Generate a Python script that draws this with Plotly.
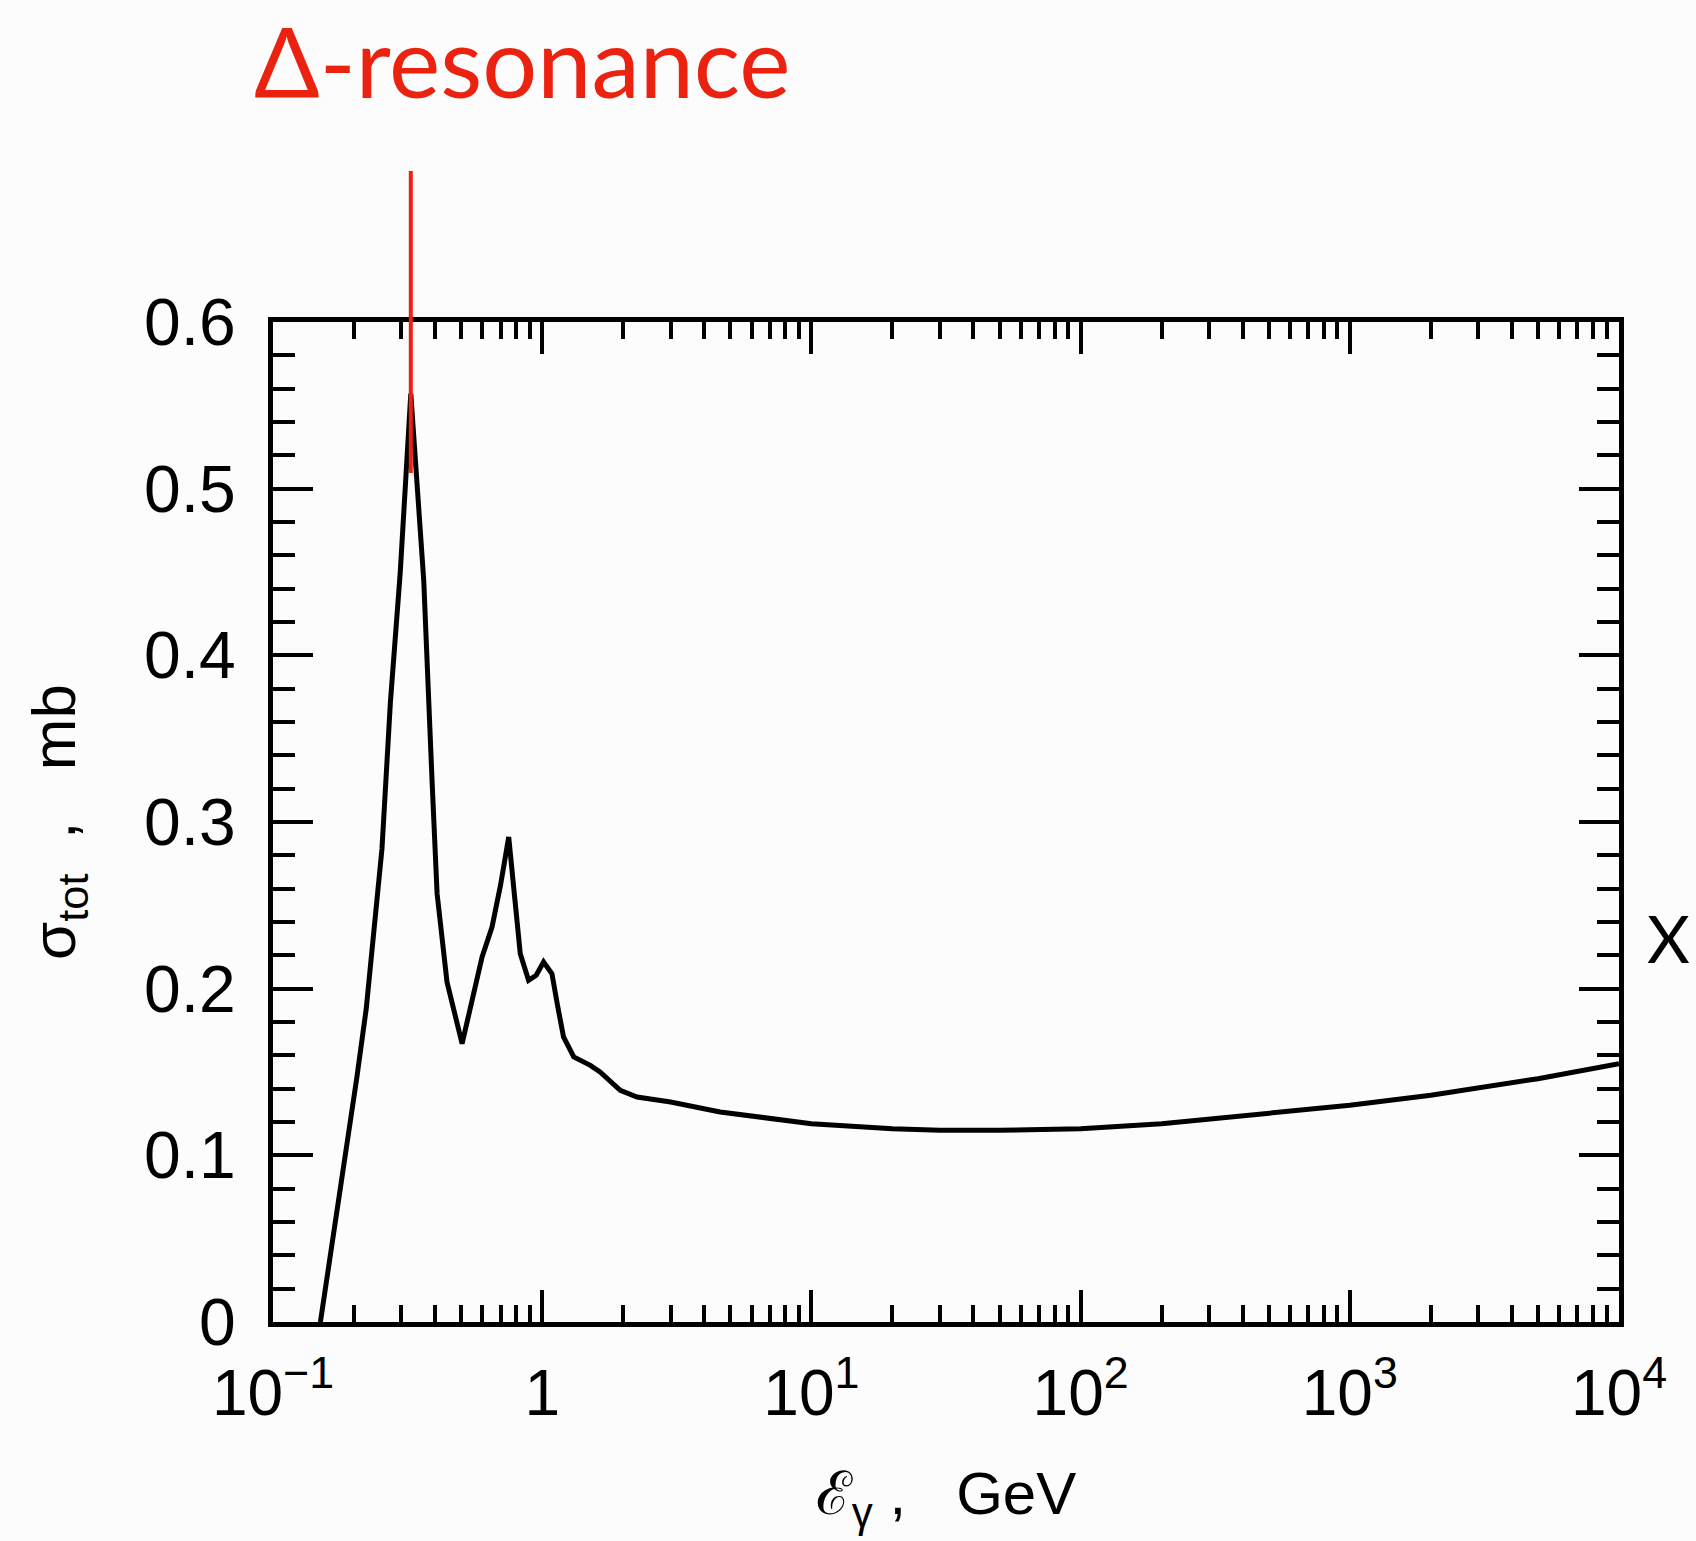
import numpy as np
import plotly.graph_objects as go

# Photon energy (GeV) and total photo-absorption cross section (mb)
energy_gev = [0.150, 0.171, 0.191, 0.205, 0.222, 0.233, 0.254, 0.273, 0.297, 0.325,
              0.363, 0.390, 0.407, 0.443, 0.504, 0.598, 0.651, 0.700, 0.751, 0.790,
              0.829, 0.890, 0.950, 1.012, 1.087, 1.14, 1.20, 1.31, 1.51, 1.64,
              1.80, 1.95, 2.25, 3.0, 4.58, 10.0, 20.0, 30.0, 50.0, 100.0,
              200.0, 500.0, 1000.0, 2000.0, 5000.0, 10000.0]
sigma_mb = [0.000, 0.060, 0.112, 0.147, 0.188, 0.222, 0.284, 0.372, 0.450, 0.557,
            0.445, 0.324, 0.257, 0.204, 0.167, 0.219, 0.237, 0.262, 0.291, 0.255,
            0.221, 0.205, 0.208, 0.216, 0.209, 0.190, 0.171, 0.159, 0.154, 0.150,
            0.144, 0.139, 0.135, 0.132, 0.126, 0.119, 0.116, 0.115, 0.115, 0.116,
            0.119, 0.125, 0.130, 0.136, 0.146, 0.155]

x_tickvals = [0.1, 1, 10, 100, 1000, 10000]
x_ticktext = ["10<sup>\u22121</sup>", "1", "10<sup>1</sup>", "10<sup>2</sup>",
              "10<sup>3</sup>", "10<sup>4</sup>"]
y_tickvals = [0, 0.1, 0.2, 0.3, 0.4, 0.5, 0.6]
y_ticktext = ["0", "0.1", "0.2", "0.3", "0.4", "0.5", "0.6"]

delta_peak_energy = 0.325
x_log_min, x_log_max = -1, 4

fig = go.Figure()
fig.add_trace(go.Scatter(x=energy_gev, y=sigma_mb, mode="lines",
                         line=dict(color="black", width=5),
                         showlegend=False, hoverinfo="skip"))

W, H = 1696, 1541
ml, mr, mt, mb = 273, 77, 322, 219
bg = "#fcfcfc"
font_lab = "Liberation Sans, Arial, sans-serif"
nb = "\u00a0"

fig.update_layout(
    width=W, height=H,
    margin=dict(l=ml, r=mr, t=mt, b=mb, pad=0),
    paper_bgcolor=bg, plot_bgcolor=bg,
    showlegend=False,
)
fig.update_xaxes(
    type="log", range=[x_log_min, x_log_max], automargin=False,
    showgrid=False, zeroline=False,
    showline=True, linecolor="black", linewidth=5, mirror="allticks",
    ticks="inside", ticklen=32, tickwidth=4, tickcolor="black",
    tickvals=x_tickvals, ticktext=x_ticktext,
    tickfont=dict(family=font_lab, size=64, color="black"),
    ticklabelstandoff=11,
    minor=dict(ticks="inside", ticklen=17, tickwidth=4, tickcolor="black",
               dtick="D1", showgrid=False),
    title=dict(text="\u2130<sub>\u03b3</sub>" + nb + "," + nb * 3 + "GeV", standoff=46,
               font=dict(family=font_lab, size=60, color="black")),
)
fig.update_yaxes(
    range=[0, 0.6], automargin=False,
    showgrid=False, zeroline=False,
    showline=True, linecolor="black", linewidth=5, mirror="allticks",
    ticks="inside", ticklen=40, tickwidth=4, tickcolor="black",
    tickvals=y_tickvals, ticktext=y_ticktext,
    tickfont=dict(family=font_lab, size=66, color="black"),
    ticklabelstandoff=19,
    minor=dict(ticks="inside", ticklen=22, tickwidth=4, tickcolor="black",
               dtick=0.02, showgrid=False),
    title=dict(text="\u03c3<sub>tot</sub>" + nb * 2 + "," + nb * 3 + "mb", standoff=50,
               font=dict(family=font_lab, size=62, color="black")),
)

peak_frac = (np.log10(delta_peak_energy) - x_log_min) / (x_log_max - x_log_min)
red = "#ec2210"
fig.add_shape(type="line", xref="paper", yref="paper",
              x0=peak_frac, x1=peak_frac, y0=0.849, y1=1.151,
              line=dict(color=red, width=4), layer="above")
fig.add_annotation(text="\u0394-resonance", xref="paper", yref="paper",
                   x=(522 - ml) / (W - ml - mr), y=1.262,
                   xanchor="center", yanchor="middle", showarrow=False,
                   font=dict(family="Lato, Open Sans, sans-serif", size=97, color=red))
fig.add_annotation(text="X", xref="paper", yref="paper",
                   x=(1668 - ml) / (W - ml - mr), y=0.385,
                   xanchor="center", yanchor="middle", showarrow=False,
                   font=dict(family="Lato, Open Sans, sans-serif", size=66, color="black"))

fig.write_html("out.html")
